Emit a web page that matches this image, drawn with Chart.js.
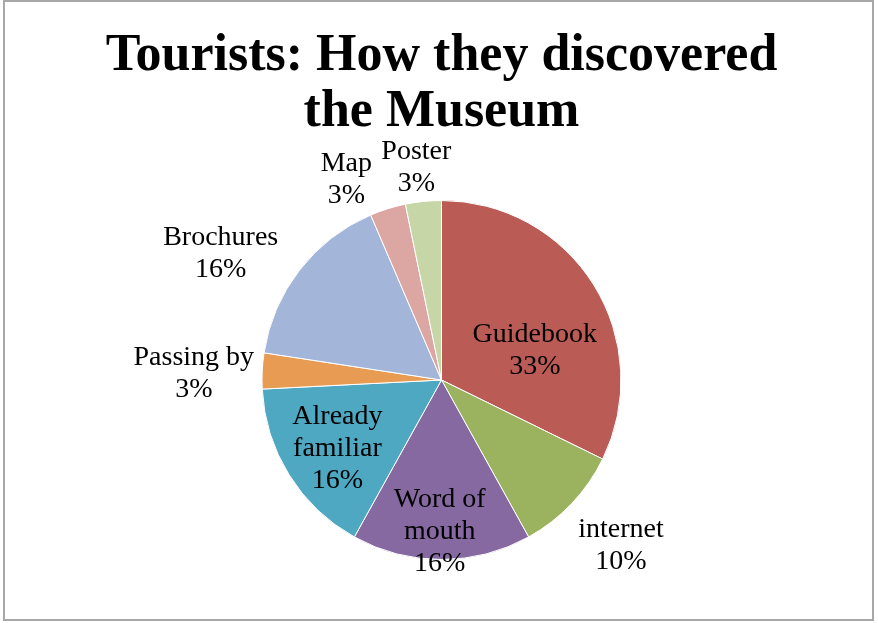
<!DOCTYPE html>
<html>
<head>
<meta charset="utf-8">
<script src="https://cdn.jsdelivr.net/npm/chart.js@4"></script>
<style>
  html, body { margin: 0; padding: 0; background: #fff; }
  #wrap { position: relative; width: 878px; height: 623px; }
  #frame { position: absolute; left: 3px; top: 0; width: 871px; height: 621px;
           border: 2px solid #a8a8a8; box-sizing: border-box; pointer-events: none; }
  canvas { position: absolute; left: 0; top: 0; }
</style>
</head>
<body>
<div id="wrap">
  <canvas id="pie" width="878" height="623"></canvas>
  <div id="frame"></div>
</div>
<script>
// ============================================================
// DATA
// ============================================================
const categories = ['Guidebook', 'internet', 'Word of mouth', 'Already familiar', 'Passing by', 'Brochures', 'Map', 'Poster'];
const responses = [10, 3, 5, 5, 1, 5, 1, 1];
const percentLabels = ['33%', '10%', '16%', '16%', '3%', '16%', '3%', '3%'];
const labelLines = [['Guidebook'], ['internet'], ['Word of', 'mouth'], ['Already', 'familiar'], ['Passing by'], ['Brochures'], ['Map'], ['Poster']];
const sliceColors = ['#BA5B55', '#9BB25E', '#8569A0', '#4EA8C1', '#E89B52', '#A3B6D9', '#DCA6A3', '#C6D6A7'];

// label block centres, as fractions of the pie radius from the centre
const labelPos = [[0.52, -0.165], [1.0, 0.925], [-0.01, 0.845], [-0.58, 0.385], [-1.38, -0.035], [-1.23, -0.705], [-0.53, -1.115], [-0.14, -1.185]];

const sliceLabels = {
    id: 'sliceLabels',
    afterDatasetsDraw(chart) {
        const ctx = chart.ctx;
        const arcs = chart.getDatasetMeta(0).data;
        ctx.save();
        ctx.font = '28px "Liberation Serif", serif';
        ctx.fillStyle = '#000';
        ctx.textAlign = 'center';
        ctx.textBaseline = 'middle';
        arcs.forEach((arc, i) => {
            const r = arc.outerRadius;
            const lines = labelLines[i].concat([percentLabels[i]]);
            const cx = arc.x + labelPos[i][0] * r;
            const cy = arc.y + labelPos[i][1] * r;
            const lh = 32;
            const y0 = cy - (lines.length - 1) * lh / 2;
            lines.forEach((t, k) => ctx.fillText(t, cx, y0 + k * lh));
        });
        ctx.restore();
    }
};

new Chart(document.getElementById('pie').getContext('2d'), {
    type: 'pie',
    data: {
        labels: categories,
        datasets: [{
            data: responses,
            backgroundColor: sliceColors,
            borderColor: '#ffffff',
            borderWidth: 1
        }]
    },
    options: {
        responsive: false,
        animation: false,
        layout: { padding: { left: 5, right: 0, top: 0, bottom: 63 } },
        plugins: {
            legend: { display: false },
            tooltip: { enabled: false },
            title: {
                display: true,
                text: ['Tourists: How they discovered', 'the Museum'],
                color: '#000',
                font: { family: '"Liberation Serif", serif', size: 52, weight: 'bold', lineHeight: 1.077 },
                padding: { top: 29, bottom: 59 }
            }
        }
    },
    plugins: [sliceLabels]
});
</script>
</body>
</html>
